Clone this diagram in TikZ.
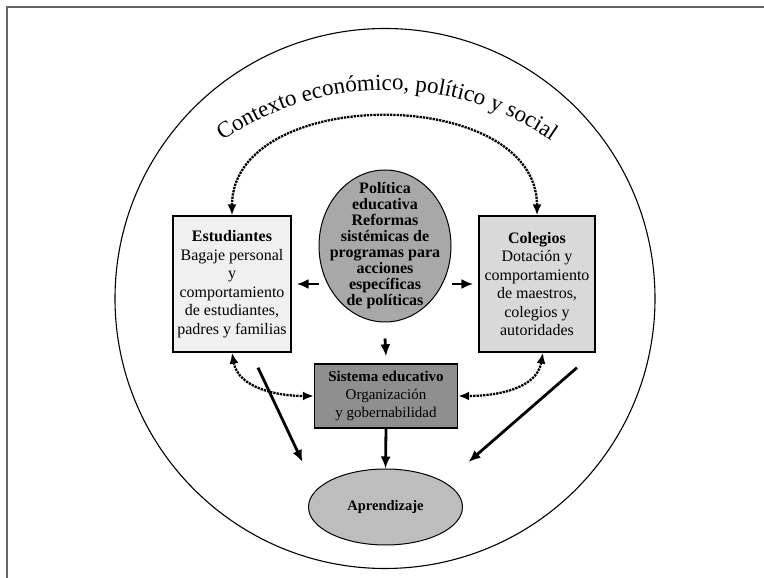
\documentclass[tikz,border=0pt]{standalone}
\usepackage{fontspec}
\setmainfont{Liberation Serif}
\usepackage{tikz}
\usetikzlibrary{calc,arrows,arrows.meta,shapes.geometric,decorations.text}

\begin{document}
\begin{tikzpicture}[x=1pt,y=1pt,
              caja/.style={draw=black,line width=1.3pt,inner sep=0pt,align=center},
              ovalo/.style={ellipse,draw=black,line width=1pt,inner xsep=-20pt,inner ysep=-30pt,align=center},
              flecha/.style={-{Latex[length=12pt,width=10pt]},line width=2.8pt},
              punteada/.style={{Latex[length=11pt,width=9pt]}-{Latex[length=11pt,width=9pt]},line width=2.3pt,densely dotted}]
              \useasboundingbox (0,0) rectangle (764,578);
              \draw[line width=2pt,color=black!60] (6.5,0) -- (6.5,570.5) -- (764,570.5);
              \draw[line width=1.1pt] (385,279.5) circle (270);
              % texto curvo del contexto
              \path[decorate,decoration={text along path,text align=center,
                text={|\fontsize{23}{28}\selectfont|Contexto económico, político y social}}]
                (387,198) ++(130:290) arc[start angle=130,end angle=50,radius=290];
              \node[caja,fill=black!6,minimum width=118pt,minimum height=136pt,font=\fontsize{16}{18.5}\selectfont](est)at(232,294){\textbf{Estudiantes}\\Bagaje personal\\y\\comportamiento\\de estudiantes,\\padres y familias};
              \node[caja,fill=black!15,minimum width=116pt,minimum height=136pt,font=\fontsize{16}{18.5}\selectfont](col)at(537,294){\textbf{Colegios}\\Dotación y\\comportamiento\\de maestros,\\colegios y\\autoridades};
              \node[ovalo,fill=black!34,minimum width=132pt,minimum height=152pt,font=\fontsize{16}{16}\selectfont\bfseries](pol)at(385,332){Política\\educativa\\Reformas\\sistémicas de\\programas para\\acciones\\específicas\\de políticas};
              \node[caja,fill=black!44,minimum width=143pt,minimum height=64pt,font=\fontsize{15}{18}\selectfont](sis)at(386,182){\textbf{Sistema educativo}\\Organización\\y gobernabilidad};
              \node[ovalo,fill=black!26,minimum width=154pt,minimum height=76pt,font=\fontsize{14.5}{16}\selectfont\bfseries](apr)at(385.5,71){Aprendizaje};
              % relaciones punteadas
              \draw[punteada] (est.north) to[out=90,in=90,looseness=1.1] (col.north);
              \draw[punteada] (est.south) to[out=-80,in=180] (sis.west);
              \draw[punteada] ([xshift=6pt]col.south) to[out=-100,in=0] (sis.east);
              % flechas solidas
              \draw[flecha] (pol.west |- est.east) -- ([xshift=5pt]est.east);
              \draw[flecha] (pol.east |- col.west) -- ([xshift=-5pt]col.west);
              \draw[flecha] ([yshift=-16pt]pol.south) -- ([yshift=7pt]sis.north);
              \draw[flecha] (sis.south) -- (apr.north);
              \draw[flecha] ([shift={(26pt,-15pt)}]est.south) -- ([shift={(-83pt,45pt)}]apr.center);
              \draw[flecha] ([shift={(40pt,-15pt)}]col.south) -- ([shift={(83pt,45pt)}]apr.center);
            \end{tikzpicture}
\end{document}
